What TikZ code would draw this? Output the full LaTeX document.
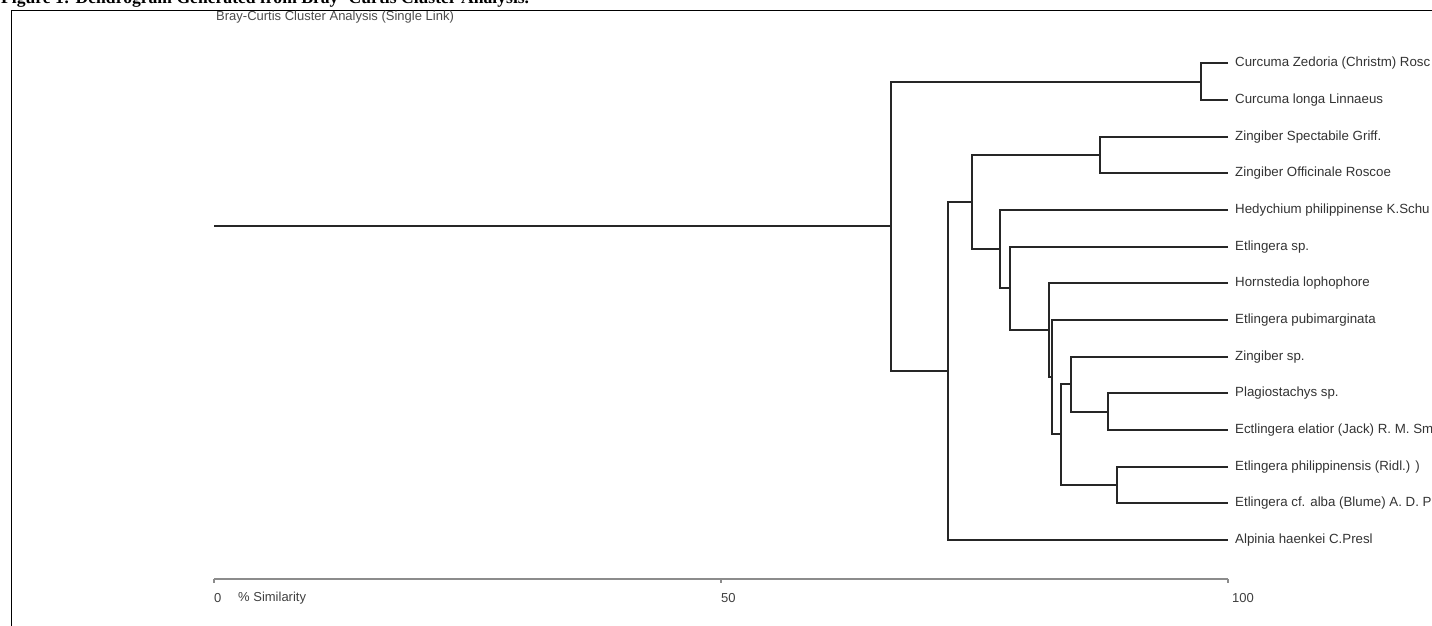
\documentclass[tikz,border=0pt]{standalone}
\usepackage{fontspec}
\setmainfont{Liberation Sans}
\newfontfamily\capfont{Liberation Serif}
\begin{document}
\begin{tikzpicture}[x=1pt,y=-1pt,
  br/.style={line width=2pt, draw=black!85, line join=miter},
  leaf/.style={anchor=west, inner sep=0pt, xshift=7pt, font=\fontsize{13.3}{15}\selectfont, text=black!80},
  axtxt/.style={anchor=west, inner sep=0pt, font=\fontsize{13}{15}\selectfont, text=black!75},
  axline/.style={line width=2pt, draw=black!45},
  frameline/.style={line width=1.5pt, draw=black}]
\useasboundingbox (0,0) rectangle (1432,626);
% caption (cut at top of page, as in the reference)
\node[anchor=base west, inner sep=0pt, font=\capfont\bfseries\fontsize{17.6}{19}\selectfont] (cap) at (1,4) {Figure 1: Dendrogram Generated from Bray- Curtis Cluster Analysis.};
% frame
\coordinate (fa) at (11.5,640);
\coordinate (fb) at (11.5,10.5);
\coordinate (fc) at (1445,10.5);
\draw[frameline] (fa) -- (fb) -- (fc);
% title
\node[axtxt, text=black!70] (title) at (216,17.5) {Bray-Curtis Cluster Analysis (Single Link)};
% leaves
\foreach \i/\yy/\t in {0/63/{Curcuma Zedoria (Christm) Rosc},1/100/{Curcuma longa Linnaeus},2/137/{Zingiber Spectabile Griff.},3/173/{Zingiber Officinale Roscoe},4/210/{Hedychium philippinense K.Schu},5/247/{Etlingera sp.},6/283/{Hornstedia lophophore},7/320/{Etlingera pubimarginata},8/357/{Zingiber sp.},9/393/{Plagiostachys sp.},10/430/{Ectlingera elatior (Jack) R. M. Sm},11/467/{Etlingera philippinensis (Ridl.) )},12/503/{Etlingera cf. alba (Blume) A. D. P},13/540/{Alpinia haenkei C.Presl}}{
  \coordinate (L\i) at (1228,\yy);
  \node[leaf] (T\i) at (L\i) {\t};
}
% internal nodes
\coordinate (cu) at (1201,82);
\coordinate (zp) at (1100,155);
\coordinate (A) at (1108,412);
\coordinate (B) at (1071,384);
\coordinate (C) at (1117,485);
\coordinate (D) at (1061,434);
\coordinate (E) at (1052,377);
\coordinate (F) at (1049,330);
\coordinate (G) at (1010,288);
\coordinate (H) at (1000,249);
\coordinate (I) at (972,202);
\coordinate (J) at (948,371);
\coordinate (K) at (891,226);
\coordinate (root) at (214,226);
% branches
\draw[br] (L0) -| (cu) |- (L1);
\draw[br] (L2) -| (zp) |- (L3);
\draw[br] (L9) -| (A) |- (L10);
\draw[br] (L11) -| (C) |- (L12);
\draw[br] (L8) -| (B) |- (A);
\draw[br] (B) -| (D) |- (C);
\draw[br] (L7) -| (E) |- (D);
\draw[br] (L6) -| (F) |- (E);
\draw[br] (L5) -| (G) |- (F);
\draw[br] (L4) -| (H) |- (G);
\draw[br] (zp) -| (I) |- (H);
\draw[br] (I) -| (J) |- (L13);
\draw[br] (cu) -| (K) |- (J);
\draw[br] (root) -- (K);
% axis
\coordinate (a0) at (214,579);
\coordinate (a50) at (721,579);
\coordinate (a100) at (1228,579);
\draw[axline] (a0) -- (a100);
\draw[axline] (a0) -- ++(0,4);
\draw[axline] (a50) -- ++(0,4);
\draw[axline] (a100) -- ++(0,4);
\node[axtxt] (t0) at (214,598) {0};
\node[axtxt] (tsim) at (238,598) {\%\ Similarity};
\node[axtxt] (t50) at (721,598) {50};
\node[axtxt] (t100) at (1232,598) {100};
\end{tikzpicture}
\end{document}
